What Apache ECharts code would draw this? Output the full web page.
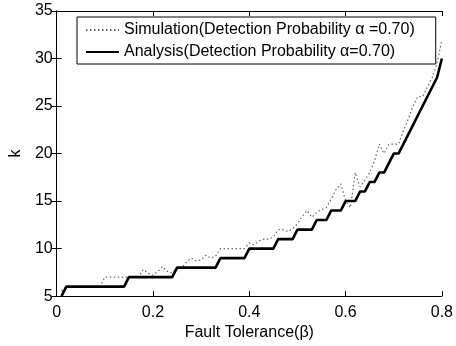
<!DOCTYPE html>
<html>
<head>
<meta charset="utf-8">
<script src="https://cdn.jsdelivr.net/npm/echarts@6/dist/echarts.min.js"></script>
<style>
  html, body { margin: 0; padding: 0; background: #fff; }
  #chart { width: 456px; height: 346px; }
</style>
</head>
<body>
<div id="chart"></div>
<script>
// fault tolerance beta (x), step 0.01
const betas = [
  0.01, 0.02, 0.03, 0.04, 0.05, 0.06, 0.07, 0.08, 0.09, 0.10,
  0.11, 0.12, 0.13, 0.14, 0.15, 0.16, 0.17, 0.18, 0.19, 0.20,
  0.21, 0.22, 0.23, 0.24, 0.25, 0.26, 0.27, 0.28, 0.29, 0.30,
  0.31, 0.32, 0.33, 0.34, 0.35, 0.36, 0.37, 0.38, 0.39, 0.40,
  0.41, 0.42, 0.43, 0.44, 0.45, 0.46, 0.47, 0.48, 0.49, 0.50,
  0.51, 0.52, 0.53, 0.54, 0.55, 0.56, 0.57, 0.58, 0.59, 0.60,
  0.61, 0.62, 0.63, 0.64, 0.65, 0.66, 0.67, 0.68, 0.69, 0.70,
  0.71, 0.72, 0.73, 0.74, 0.75, 0.76, 0.77, 0.78, 0.79, 0.80
];

const analysisK = [
  5, 6, 6, 6, 6, 6, 6, 6, 6, 6,
  6, 6, 6, 6, 7, 7, 7, 7, 7, 7,
  7, 7, 7, 7, 8, 8, 8, 8, 8, 8,
  8, 8, 8, 9, 9, 9, 9, 9, 9, 10,
  10, 10, 10, 10, 10, 11, 11, 11, 11, 12,
  12, 12, 12, 13, 13, 13, 14, 14, 14, 15,
  15, 15, 16, 16, 17, 17, 18, 18, 19, 20,
  20, 21, 22, 23, 24, 25, 26, 27, 28, 30
];

const simulationK = [
  5.5, 6, 6, 6, 6, 6, 6, 6, 6, 7,
  7, 7, 7, 7, 7, 7, 7, 7.8, 7.4, 7.2,
  7.6, 8.1, 7.6, 7.4, 8, 8, 8.6, 9, 8.7, 8.8,
  9.3, 9, 9.2, 10, 10, 10, 10, 10, 10, 10.6,
  10.4, 10.8, 11, 11, 11.2, 12, 12, 11.8, 12.1, 12.6,
  13.4, 14, 13.3, 13.8, 14.1, 14.3, 15.2, 16.2, 16.8, 15,
  14.3, 18, 16.5, 17.2, 18, 19.2, 21, 20, 21, 21,
  21, 22.4, 23.6, 25, 26, 26, 27, 28, 29.5, 32
];

const xTicks = { min: 0, max: 0.8, interval: 0.2 };
const yTicks = { min: 5, max: 35, interval: 5 };

const simName = 'Simulation(Detection Probability α =0.70)';
const anaName = 'Analysis(Detection Probability α=0.70)';

const font = 'Liberation Sans, Arial, Helvetica, sans-serif';

const chart = echarts.init(document.getElementById('chart'), null, { renderer: 'canvas' });

const axisBase = {
  type: 'value',
  axisLine: { show: true, lineStyle: { color: '#000', width: 1 } },
  axisTick: { show: true, inside: true, length: 5, lineStyle: { color: '#000' } },
  splitLine: { show: false }
};

const option = {
  backgroundColor: '#fff',
  animation: false,
  textStyle: { fontFamily: font },
  grid: { left: 53, right: 14, top: 11, bottom: 41, containLabel: false },
  legend: {
    orient: 'vertical',
    left: 77,
    top: 17,
    padding: [5, 21, 4, 8],
    itemGap: 6,
    itemWidth: 33,
    itemHeight: 12,
    backgroundColor: '#fff',
    borderColor: '#000',
    borderWidth: 1,
    borderRadius: 0,
    itemStyle: { opacity: 0 },
    textStyle: { fontFamily: font, fontSize: 16, color: '#000' },
    data: [simName, anaName]
  },
  xAxis: [
    Object.assign({}, axisBase, {
      position: 'bottom',
      min: xTicks.min, max: xTicks.max, interval: xTicks.interval,
      name: 'Fault Tolerance(β)',
      nameLocation: 'middle',
      nameGap: 27,
      nameTextStyle: { fontFamily: font, fontSize: 16, color: '#000' },
      axisLabel: { fontFamily: font, fontSize: 16, color: '#000', margin: 8 }
    }),
    Object.assign({}, axisBase, {
      position: 'top',
      min: xTicks.min, max: xTicks.max, interval: xTicks.interval,
      axisLabel: { show: false }
    })
  ],
  yAxis: [
    Object.assign({}, axisBase, {
      position: 'left',
      min: yTicks.min, max: yTicks.max, interval: yTicks.interval,
      name: 'k',
      nameLocation: 'middle',
      nameGap: 28,
      nameTextStyle: { fontFamily: font, fontSize: 16, color: '#000' },
      axisLabel: { fontFamily: font, fontSize: 16, color: '#000', margin: 4 }
    }),
    Object.assign({}, axisBase, {
      position: 'right',
      min: yTicks.min, max: yTicks.max, interval: yTicks.interval,
      axisLabel: { show: false }
    })
  ],
  series: [
    {
      name: simName,
      type: 'line',
      xAxisIndex: 0,
      yAxisIndex: 0,
      symbol: 'none',
      lineStyle: { color: '#666', width: 1.2, type: [1.5, 2.5] },
      itemStyle: { color: '#666' },
      data: betas.map((b, i) => [b, simulationK[i]]),
      z: 2
    },
    {
      name: anaName,
      type: 'line',
      xAxisIndex: 0,
      yAxisIndex: 0,
      symbol: 'none',
      lineStyle: { color: '#000', width: 2.6 },
      itemStyle: { color: '#000' },
      data: betas.map((b, i) => [b, analysisK[i]]),
      z: 3
    }
  ]
};

chart.setOption(option);
</script>
</body>
</html>
